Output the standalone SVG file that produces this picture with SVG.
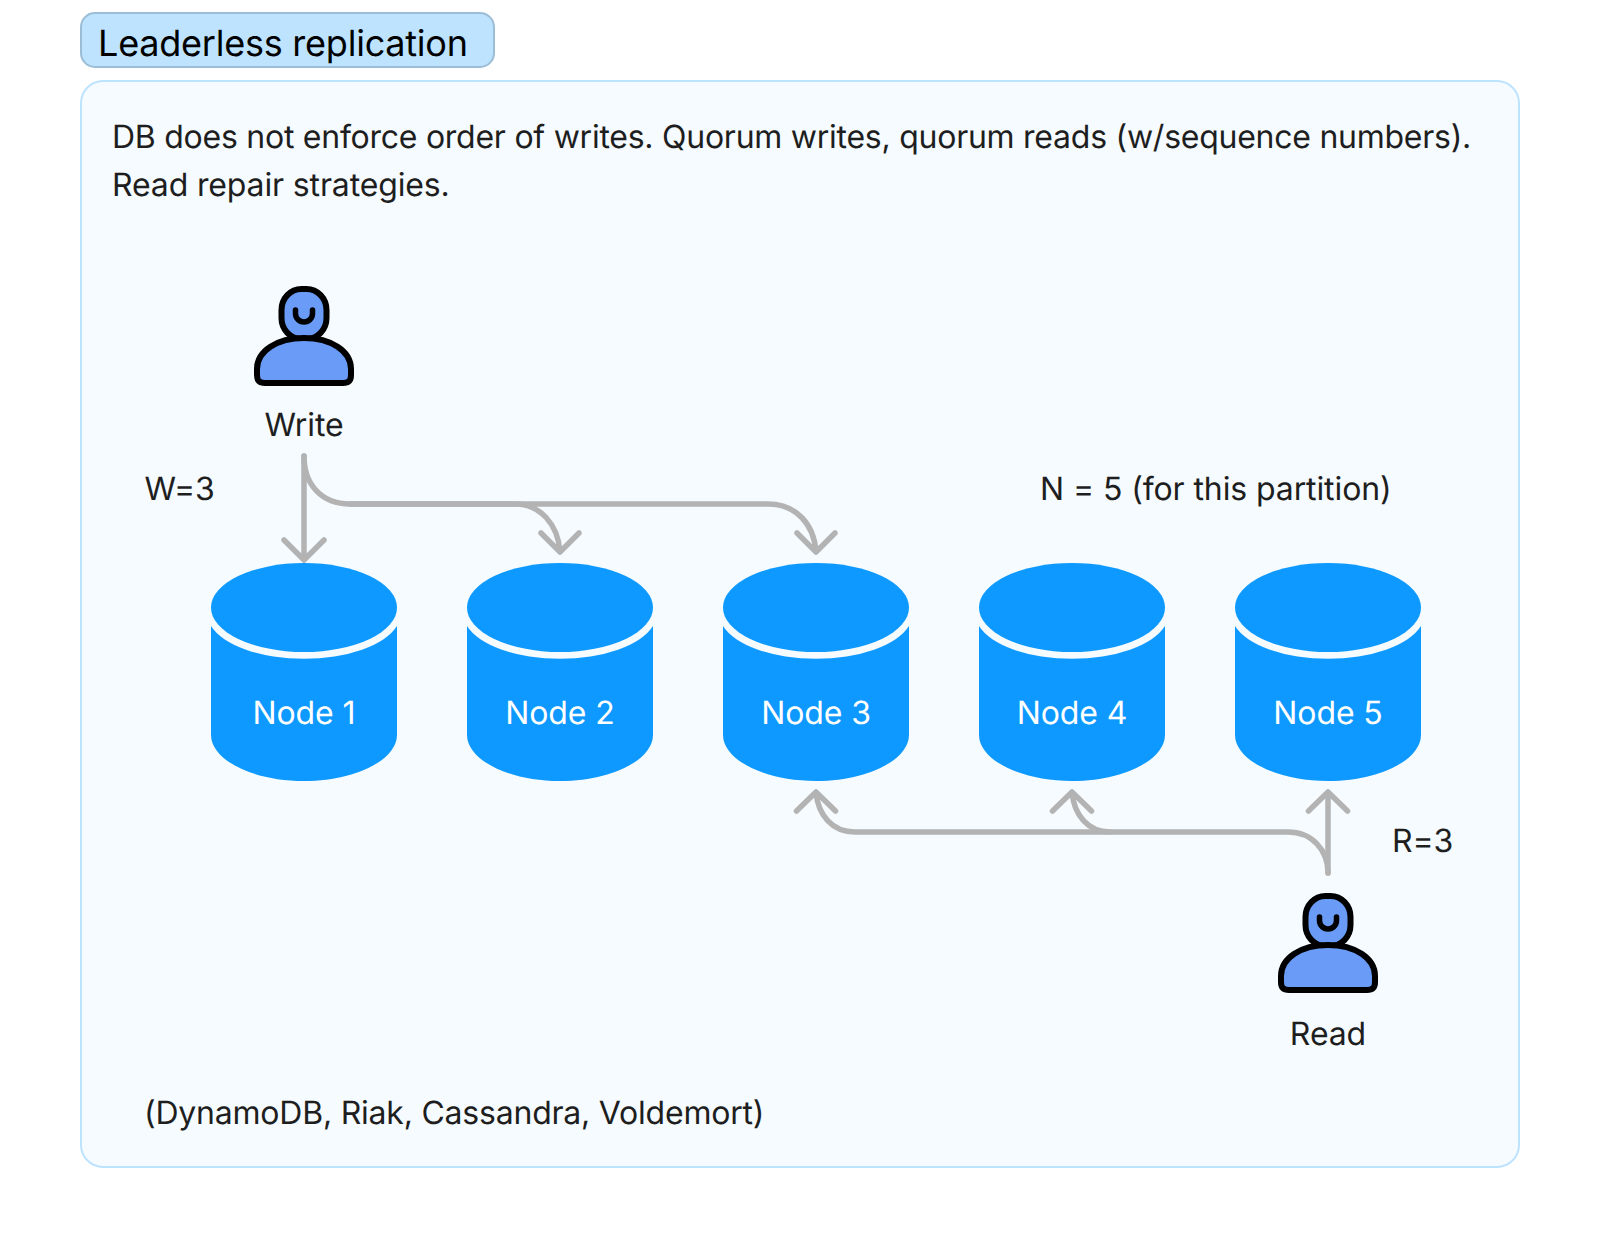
<svg xmlns="http://www.w3.org/2000/svg" width="1600" height="1248" viewBox="0 0 1600 1248">
<style>
text{font-family:Inter,"Noto Sans","Liberation Sans",sans-serif;fill:#1e1e1e;font-size:32px;text-rendering:geometricPrecision;letter-spacing:-0.1px}
.c{text-anchor:middle}
.n{fill:#fff}
.cyl{fill:#0d99ff}
.p{fill:#699bf7;stroke:#000;stroke-width:6;stroke-linejoin:round}
.m{fill:none;stroke:#000;stroke-width:5.500;stroke-linecap:round}
.e{fill:none;stroke:#b3b3b3;stroke-width:5.500;stroke-linecap:round;stroke-linejoin:round}
</style>
<defs>
<g id="person">
<rect class="p" x="-22.5" y="-97" width="45" height="50" rx="20" ry="21"/>
<path class="m" d="M-8.5 -76V-72.5A8.5 8.5 0 0 0 8.5 -72.5V-76"/>
<path class="p" d="M-47 -17C-47 -35 -27 -48 0 -48C27 -48 47 -35 47 -17V-11C47 -5 44 -3 39 -3H-39C-44 -3 -47 -5 -47 -11Z"/>
</g>
<g id="cyl">
<path class="cyl" d="M-93 63V172C-93 197 -51 218 0 218C51 218 93 197 93 172V63A97 45.800 0 0 1 -93 63Z"/>
<ellipse class="cyl" cx="0" cy="44.500" rx="93" ry="44.500"/>
</g>
</defs>
<g id="title">
<rect x="81" y="13" width="413" height="54" rx="14" fill="#bde3ff" stroke="#9cbdd6" stroke-width="2"/>
<text x="98" y="55.5" style="font-size:36px;fill:#000;letter-spacing:-0.23px">Leaderless replication</text>
</g>
<g id="panel">
<rect x="81" y="81" width="1438" height="1086" rx="22" fill="#f5fbff" stroke="#bde3ff" stroke-width="2"/>
<text x="112" y="148" style="letter-spacing:-0.255px">DB does not enforce order of writes. Quorum writes, quorum reads (w/sequence numbers).</text>
<text x="112" y="196" style="letter-spacing:-0.14px">Read repair strategies.</text>
<text x="144.5" y="500">W=3</text>
<text x="1040" y="500">N = 5 (for this partition)</text>
<text x="1392" y="852">R=3</text>
<text x="144" y="1124" style="letter-spacing:-0.22px">(DynamoDB, Riak, Cassandra, Voldemort)</text>
</g>
<g id="node1"><use href="#cyl" transform="translate(304,563)"/><text class="c n" x="304" y="724">Node 1</text></g>
<g id="node2"><use href="#cyl" transform="translate(560,563)"/><text class="c n" x="560" y="724">Node 2</text></g>
<g id="node3"><use href="#cyl" transform="translate(816,563)"/><text class="c n" x="816" y="724">Node 3</text></g>
<g id="node4"><use href="#cyl" transform="translate(1072,563)"/><text class="c n" x="1072" y="724">Node 4</text></g>
<g id="node5"><use href="#cyl" transform="translate(1328,563)"/><text class="c n" x="1328" y="724">Node 5</text></g>
<g id="connectors">
<path class="e" d="M304 456V560M284 540L304 560L324 540"/>
<path class="e" d="M304 456C304 485 322 504 350 504H515C540 504 558 524 560 552M541 533L560 552L579 533"/>
<path class="e" d="M350 504H768C796 504 814 524 816 552M797 533L816 552L835 533"/>
<path class="e" d="M1328 873V792M1308.500 811L1328 792L1347.500 811"/>
<path class="e" d="M1328 873C1328 850 1312 832 1288 832H855C832 832 818 815 816 792M796.500 811L816 792L835.500 811"/>
<path class="e" d="M1110 832C1088 832 1074 815 1072 792M1052.500 811L1072 792L1091.500 811"/>
</g>
<g id="write"><use href="#person" transform="translate(304,386)"/><text class="c" x="304" y="436">Write</text></g>
<g id="read"><use href="#person" transform="translate(1328,993)"/><text class="c" x="1328" y="1044.500">Read</text></g>
</svg>
